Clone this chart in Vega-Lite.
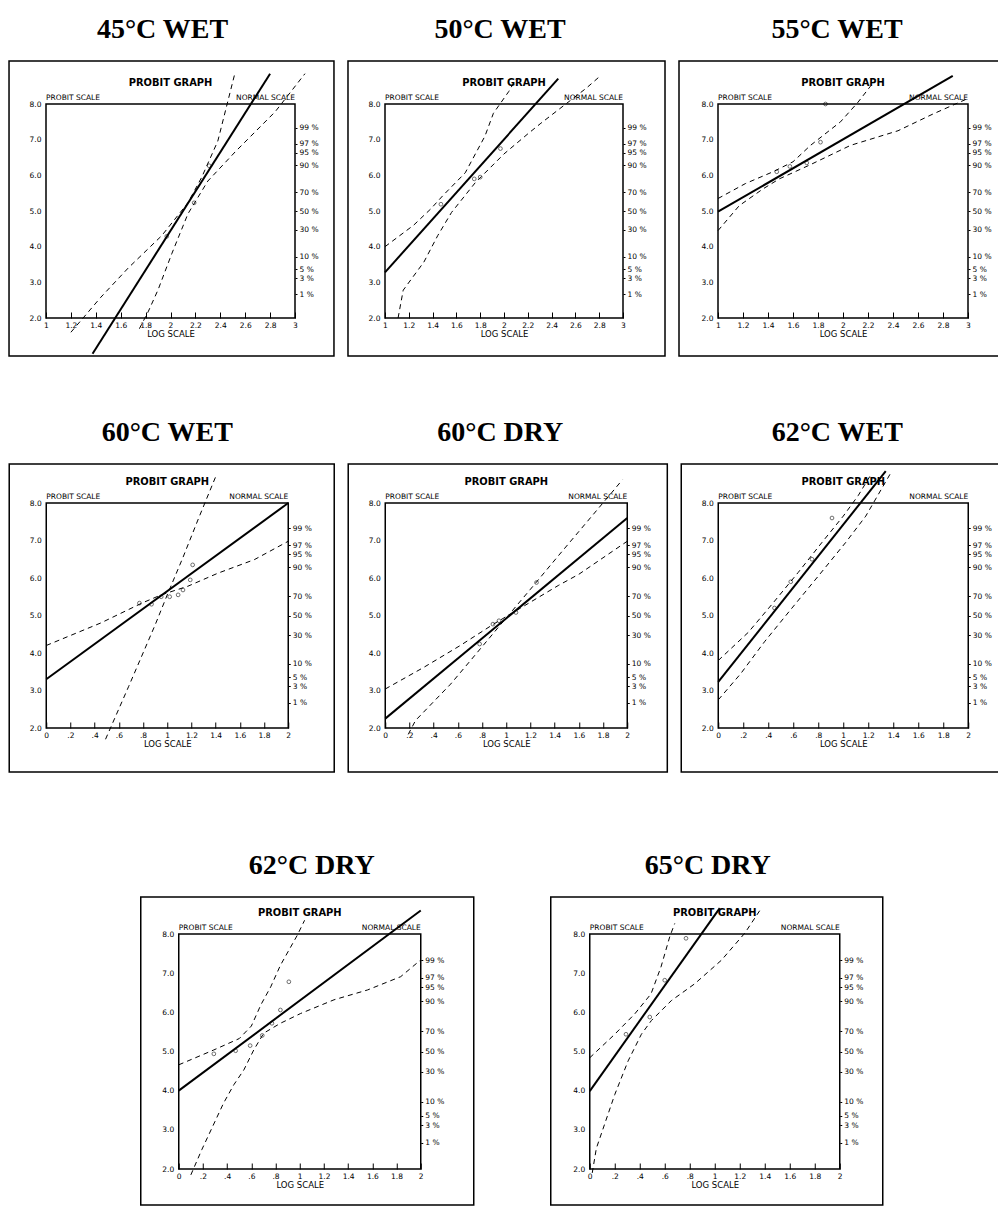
{
  "$schema": "https://vega.github.io/schema/vega-lite/v6.json",
  "background": "white",
  "padding": {"left": 7, "top": 15, "right": 0, "bottom": 0},
  "datasets": {
    "p1": [
      {"s": "fit", "x": 1.374, "y": 1.0}, {"s": "fit", "x": 2.80, "y": 8.85},
      {"s": "band1", "x": 1.2, "y": 1.6}, {"s": "band1", "x": 1.44, "y": 2.58}, {"s": "band1", "x": 1.66, "y": 3.40}, {"s": "band1", "x": 1.93, "y": 4.31}, {"s": "band1", "x": 2.14, "y": 5.23}, {"s": "band1", "x": 2.25, "y": 5.94}, {"s": "band1", "x": 2.38, "y": 6.96}, {"s": "band1", "x": 2.52, "y": 8.9},
      {"s": "band2", "x": 1.75, "y": 1.7}, {"s": "band2", "x": 1.82, "y": 2.17}, {"s": "band2", "x": 1.90, "y": 2.79}, {"s": "band2", "x": 2.01, "y": 3.80}, {"s": "band2", "x": 2.14, "y": 4.92}, {"s": "band2", "x": 2.30, "y": 5.84}, {"s": "band2", "x": 2.52, "y": 6.66}, {"s": "band2", "x": 2.84, "y": 7.78}, {"s": "band2", "x": 3.08, "y": 8.85},
      {"s": "obs", "x": 1.97, "y": 4.29}, {"s": "obs", "x": 2.19, "y": 5.23}, {"s": "obs", "x": 2.31, "y": 6.27}
    ],
    "p2": [
      {"s": "fit", "x": 1.0, "y": 3.28}, {"s": "fit", "x": 2.456, "y": 8.71},
      {"s": "band1", "x": 1.0, "y": 4.0}, {"s": "band1", "x": 1.24, "y": 4.6}, {"s": "band1", "x": 1.385, "y": 5.06}, {"s": "band1", "x": 1.486, "y": 5.43}, {"s": "band1", "x": 1.674, "y": 6.07}, {"s": "band1", "x": 1.84, "y": 7.1}, {"s": "band1", "x": 1.911, "y": 7.74}, {"s": "band1", "x": 2.04, "y": 8.35}, {"s": "band1", "x": 2.1, "y": 8.7},
      {"s": "band2", "x": 1.11, "y": 2.0}, {"s": "band2", "x": 1.153, "y": 2.78}, {"s": "band2", "x": 1.327, "y": 3.57}, {"s": "band2", "x": 1.443, "y": 4.31}, {"s": "band2", "x": 1.559, "y": 4.96}, {"s": "band2", "x": 1.76, "y": 5.8}, {"s": "band2", "x": 2.0, "y": 6.6}, {"s": "band2", "x": 2.21, "y": 7.19}, {"s": "band2", "x": 2.31, "y": 7.46}, {"s": "band2", "x": 2.69, "y": 8.44}, {"s": "band2", "x": 2.8, "y": 8.76},
      {"s": "obs", "x": 1.47, "y": 5.19}, {"s": "obs", "x": 1.75, "y": 5.9}, {"s": "obs", "x": 1.8, "y": 5.95}, {"s": "obs", "x": 1.97, "y": 6.75}
    ],
    "p3": [
      {"s": "fit", "x": 1.0, "y": 4.98}, {"s": "fit", "x": 2.878, "y": 8.79},
      {"s": "band1", "x": 1.0, "y": 5.35}, {"s": "band1", "x": 1.22, "y": 5.77}, {"s": "band1", "x": 1.44, "y": 6.1}, {"s": "band1", "x": 1.6, "y": 6.38}, {"s": "band1", "x": 1.74, "y": 6.84}, {"s": "band1", "x": 1.98, "y": 7.5}, {"s": "band1", "x": 2.12, "y": 8.05}, {"s": "band1", "x": 2.22, "y": 8.5},
      {"s": "band2", "x": 1.0, "y": 4.45}, {"s": "band2", "x": 1.17, "y": 5.15}, {"s": "band2", "x": 1.36, "y": 5.62}, {"s": "band2", "x": 1.49, "y": 5.9}, {"s": "band2", "x": 1.74, "y": 6.3}, {"s": "band2", "x": 2.06, "y": 6.84}, {"s": "band2", "x": 2.44, "y": 7.25}, {"s": "band2", "x": 2.72, "y": 7.72}, {"s": "band2", "x": 2.99, "y": 8.14},
      {"s": "obs", "x": 1.47, "y": 6.1}, {"s": "obs", "x": 1.575, "y": 6.25}, {"s": "obs", "x": 1.71, "y": 6.35}, {"s": "obs", "x": 1.82, "y": 6.93}, {"s": "obs", "x": 1.86, "y": 8.0}
    ],
    "p4": [
      {"s": "fit", "x": 0, "y": 3.3}, {"s": "fit", "x": 2, "y": 8.0},
      {"s": "band1", "x": 0, "y": 4.2}, {"s": "band1", "x": 0.45, "y": 4.8}, {"s": "band1", "x": 0.79, "y": 5.33}, {"s": "band1", "x": 0.95, "y": 5.55}, {"s": "band1", "x": 1.17, "y": 5.78}, {"s": "band1", "x": 1.42, "y": 6.13}, {"s": "band1", "x": 1.72, "y": 6.49}, {"s": "band1", "x": 2.0, "y": 6.98},
      {"s": "band2", "x": 0.49, "y": 1.7}, {"s": "band2", "x": 0.68, "y": 3.1}, {"s": "band2", "x": 0.9, "y": 4.75}, {"s": "band2", "x": 1.0, "y": 5.55}, {"s": "band2", "x": 1.13, "y": 6.55}, {"s": "band2", "x": 1.26, "y": 7.6}, {"s": "band2", "x": 1.4, "y": 8.7},
      {"s": "obs", "x": 0.77, "y": 5.33}, {"s": "obs", "x": 0.87, "y": 5.3}, {"s": "obs", "x": 0.95, "y": 5.5}, {"s": "obs", "x": 1.02, "y": 5.5}, {"s": "obs", "x": 1.09, "y": 5.55}, {"s": "obs", "x": 1.13, "y": 5.68}, {"s": "obs", "x": 1.19, "y": 5.95}, {"s": "obs", "x": 1.21, "y": 6.35}
    ],
    "p5": [
      {"s": "fit", "x": 0, "y": 2.25}, {"s": "fit", "x": 2, "y": 7.6},
      {"s": "band1", "x": 0, "y": 3.04}, {"s": "band1", "x": 0.32, "y": 3.62}, {"s": "band1", "x": 0.62, "y": 4.2}, {"s": "band1", "x": 0.9, "y": 4.78}, {"s": "band1", "x": 1.15, "y": 5.26}, {"s": "band1", "x": 1.43, "y": 5.8}, {"s": "band1", "x": 1.6, "y": 6.1}, {"s": "band1", "x": 2.0, "y": 6.98},
      {"s": "band2", "x": 0.19, "y": 1.83}, {"s": "band2", "x": 0.25, "y": 2.2}, {"s": "band2", "x": 0.54, "y": 3.17}, {"s": "band2", "x": 0.71, "y": 3.82}, {"s": "band2", "x": 0.98, "y": 4.86}, {"s": "band2", "x": 1.2, "y": 5.7}, {"s": "band2", "x": 1.43, "y": 6.59}, {"s": "band2", "x": 1.6, "y": 7.24}, {"s": "band2", "x": 1.71, "y": 7.66}, {"s": "band2", "x": 1.875, "y": 8.29}, {"s": "band2", "x": 1.96, "y": 8.62},
      {"s": "obs", "x": 0.78, "y": 4.24}, {"s": "obs", "x": 0.89, "y": 4.77}, {"s": "obs", "x": 0.94, "y": 4.86}, {"s": "obs", "x": 1.08, "y": 5.08}, {"s": "obs", "x": 1.25, "y": 5.88}
    ],
    "p6": [
      {"s": "fit", "x": 0, "y": 3.23}, {"s": "fit", "x": 1.34, "y": 8.85},
      {"s": "band1", "x": 0, "y": 3.8}, {"s": "band1", "x": 0.24, "y": 4.55}, {"s": "band1", "x": 0.43, "y": 5.3}, {"s": "band1", "x": 0.64, "y": 6.15}, {"s": "band1", "x": 0.83, "y": 6.95}, {"s": "band1", "x": 1.0, "y": 7.65}, {"s": "band1", "x": 1.12, "y": 8.2}, {"s": "band1", "x": 1.22, "y": 8.75},
      {"s": "band2", "x": 0, "y": 2.75}, {"s": "band2", "x": 0.18, "y": 3.45}, {"s": "band2", "x": 0.37, "y": 4.3}, {"s": "band2", "x": 0.59, "y": 5.2}, {"s": "band2", "x": 0.8, "y": 6.05}, {"s": "band2", "x": 1.02, "y": 6.95}, {"s": "band2", "x": 1.18, "y": 7.65}, {"s": "band2", "x": 1.38, "y": 8.8},
      {"s": "obs", "x": 0.45, "y": 5.2}, {"s": "obs", "x": 0.58, "y": 5.9}, {"s": "obs", "x": 0.75, "y": 6.5}, {"s": "obs", "x": 0.91, "y": 7.6}
    ],
    "p7": [
      {"s": "fit", "x": 0, "y": 4.0}, {"s": "fit", "x": 2, "y": 8.6},
      {"s": "band1", "x": 0, "y": 4.66}, {"s": "band1", "x": 0.29, "y": 5.04}, {"s": "band1", "x": 0.5, "y": 5.33}, {"s": "band1", "x": 0.6, "y": 5.65}, {"s": "band1", "x": 0.68, "y": 6.2}, {"s": "band1", "x": 0.76, "y": 6.65}, {"s": "band1", "x": 0.84, "y": 7.2}, {"s": "band1", "x": 0.98, "y": 7.97}, {"s": "band1", "x": 1.04, "y": 8.35},
      {"s": "band2", "x": 0.1, "y": 1.85}, {"s": "band2", "x": 0.19, "y": 2.49}, {"s": "band2", "x": 0.37, "y": 3.68}, {"s": "band2", "x": 0.455, "y": 4.15}, {"s": "band2", "x": 0.538, "y": 4.53}, {"s": "band2", "x": 0.62, "y": 5.04}, {"s": "band2", "x": 0.703, "y": 5.47}, {"s": "band2", "x": 0.84, "y": 5.72}, {"s": "band2", "x": 1.007, "y": 5.97}, {"s": "band2", "x": 1.283, "y": 6.32}, {"s": "band2", "x": 1.559, "y": 6.57}, {"s": "band2", "x": 1.834, "y": 6.91}, {"s": "band2", "x": 2.0, "y": 7.34},
      {"s": "obs", "x": 0.29, "y": 4.94}, {"s": "obs", "x": 0.47, "y": 5.02}, {"s": "obs", "x": 0.59, "y": 5.15}, {"s": "obs", "x": 0.69, "y": 5.41}, {"s": "obs", "x": 0.77, "y": 5.72}, {"s": "obs", "x": 0.84, "y": 6.06}, {"s": "obs", "x": 0.91, "y": 6.78}
    ],
    "p8": [
      {"s": "fit", "x": 0, "y": 3.99}, {"s": "fit", "x": 1.04, "y": 8.66},
      {"s": "band1", "x": 0, "y": 4.84}, {"s": "band1", "x": 0.2, "y": 5.44}, {"s": "band1", "x": 0.36, "y": 5.96}, {"s": "band1", "x": 0.49, "y": 6.47}, {"s": "band1", "x": 0.57, "y": 7.16}, {"s": "band1", "x": 0.64, "y": 7.93}, {"s": "band1", "x": 0.68, "y": 8.27},
      {"s": "band2", "x": 0.02, "y": 1.9}, {"s": "band2", "x": 0.053, "y": 2.53}, {"s": "band2", "x": 0.2, "y": 3.9}, {"s": "band2", "x": 0.307, "y": 4.76}, {"s": "band2", "x": 0.413, "y": 5.44}, {"s": "band2", "x": 0.493, "y": 5.79}, {"s": "band2", "x": 0.653, "y": 6.3}, {"s": "band2", "x": 0.84, "y": 6.73}, {"s": "band2", "x": 1.053, "y": 7.33}, {"s": "band2", "x": 1.24, "y": 8.02}, {"s": "band2", "x": 1.373, "y": 8.66},
      {"s": "obs", "x": 0.29, "y": 5.44}, {"s": "obs", "x": 0.48, "y": 5.88}, {"s": "obs", "x": 0.6, "y": 6.82}, {"s": "obs", "x": 0.77, "y": 7.89}
    ]
  },
  "spacing": 59,
  "vconcat": [
    {
      "spacing": 10,
      "hconcat": [
        {
          "title": {"text": "45°C WET", "dx": -8}, "width": 249, "height": 214,
          "resolve": {"axis": {"x": "independent", "y": "independent"}},
          "layer": [
            {"data": {"values": [{}]}, "mark": {"type": "rect", "fill": "white", "fillOpacity": 0, "stroke": "black", "strokeWidth": 1.5},
             "encoding": {"x": {"datum": 0.703, "type": "quantitative", "scale": {"domain": [1, 3]}, "axis": null},
                          "x2": {"datum": 3.313},
                          "y": {"datum": 9.206, "type": "quantitative", "scale": {"domain": [2, 8]}, "axis": {"orient": "left", "values": [2, 3, 4, 5, 6, 7, 8], "format": ".1f", "title": null}},
                          "y2": {"datum": 0.935}}},
            {"data": {"name": "p1"}, "transform": [{"filter": "datum.s == 'fit'"}], "mark": {"type": "line", "color": "black", "strokeWidth": 2},
             "encoding": {"x": {"field": "x", "type": "quantitative", "scale": {"domain": [1, 3]}, "axis": {"orient": "bottom", "values": [1, 1.2, 1.4, 1.6, 1.8, 2, 2.2, 2.4, 2.6, 2.8, 3], "format": ".1~f", "title": "LOG SCALE", "offset": -6, "tickSize": 6, "labelPadding": 3, "domain": false, "titlePadding": 1}},
                          "y": {"field": "y", "type": "quantitative", "scale": {"domain": [2, 8]}, "axis": {"orient": "right", "title": null, "values": [2.67, 3.12, 3.36, 3.72, 4.48, 5, 5.52, 6.28, 6.64, 6.88, 7.33], "labelExpr": "datum.value > 7.3 ? '99 %' : datum.value > 6.8 ? '97 %' : datum.value > 6.6 ? '95 %' : datum.value > 6.2 ? '90 %' : datum.value > 5.5 ? '70 %' : datum.value > 4.9 ? '50 %' : datum.value > 4.4 ? '30 %' : datum.value > 3.7 ? '10 %' : datum.value > 3.3 ? '5 %' : datum.value > 3.1 ? '3 %' : '1 %'"}}}},
            {"data": {"name": "p1"}, "transform": [{"filter": "datum.s != 'fit' && datum.s != 'obs'"}], "mark": {"type": "line", "color": "black", "strokeWidth": 1, "strokeDash": [5, 4]},
             "encoding": {"x": {"field": "x", "type": "quantitative", "scale": {"domain": [1, 3]}, "axis": null},
                          "y": {"field": "y", "type": "quantitative", "scale": {"domain": [2, 8]}, "axis": null},
                          "detail": {"field": "s"}}},
            {"data": {"name": "p1"}, "transform": [{"filter": "datum.s == 'obs'"}], "mark": {"type": "point", "shape": "circle", "filled": false, "size": 14, "strokeWidth": 0.8, "color": "black"},
             "encoding": {"x": {"field": "x", "type": "quantitative", "scale": {"domain": [1, 3]}, "axis": null},
                          "y": {"field": "y", "type": "quantitative", "scale": {"domain": [2, 8]}, "axis": null}}},
            {"data": {"values": [{}]}, "mark": {"type": "text", "text": "PROBIT GRAPH", "font": "DejaVu Sans Condensed, DejaVu Sans", "fontWeight": "bold", "fontSize": 11, "baseline": "middle", "dy": -21},
             "encoding": {"x": {"datum": 2, "type": "quantitative", "scale": {"domain": [1, 3]}, "axis": null}, "y": {"datum": 8, "type": "quantitative", "scale": {"domain": [2, 8]}, "axis": null}}},
            {"data": {"values": [{}]}, "mark": {"type": "text", "text": "PROBIT SCALE", "fontSize": 7.5, "align": "left", "baseline": "bottom", "dy": -2},
             "encoding": {"x": {"datum": 1, "type": "quantitative", "scale": {"domain": [1, 3]}, "axis": null}, "y": {"datum": 8, "type": "quantitative", "scale": {"domain": [2, 8]}, "axis": null}}},
            {"data": {"values": [{}]}, "mark": {"type": "text", "text": "NORMAL SCALE", "fontSize": 7.5, "align": "right", "baseline": "bottom", "dy": -2},
             "encoding": {"x": {"datum": 3, "type": "quantitative", "scale": {"domain": [1, 3]}, "axis": null}, "y": {"datum": 8, "type": "quantitative", "scale": {"domain": [2, 8]}, "axis": null}}}
          ]
        },
        {
          "title": {"text": "50°C WET", "dx": -4}, "width": 238, "height": 214,
          "resolve": {"axis": {"x": "independent", "y": "independent"}},
          "layer": [
            {"data": {"values": [{}]}, "mark": {"type": "rect", "fill": "white", "fillOpacity": 0, "stroke": "black", "strokeWidth": 1.5},
             "encoding": {"x": {"datum": 0.689, "type": "quantitative", "scale": {"domain": [1, 3]}, "axis": null},
                          "x2": {"datum": 3.353},
                          "y": {"datum": 9.206, "type": "quantitative", "scale": {"domain": [2, 8]}, "axis": {"orient": "left", "values": [2, 3, 4, 5, 6, 7, 8], "format": ".1f", "title": null}},
                          "y2": {"datum": 0.935}}},
            {"data": {"name": "p2"}, "transform": [{"filter": "datum.s == 'fit'"}], "mark": {"type": "line", "color": "black", "strokeWidth": 2},
             "encoding": {"x": {"field": "x", "type": "quantitative", "scale": {"domain": [1, 3]}, "axis": {"orient": "bottom", "values": [1, 1.2, 1.4, 1.6, 1.8, 2, 2.2, 2.4, 2.6, 2.8, 3], "format": ".1~f", "title": "LOG SCALE", "offset": -6, "tickSize": 6, "labelPadding": 3, "domain": false, "titlePadding": 1}},
                          "y": {"field": "y", "type": "quantitative", "scale": {"domain": [2, 8]}, "axis": {"orient": "right", "title": null, "values": [2.67, 3.12, 3.36, 3.72, 4.48, 5, 5.52, 6.28, 6.64, 6.88, 7.33], "labelExpr": "datum.value > 7.3 ? '99 %' : datum.value > 6.8 ? '97 %' : datum.value > 6.6 ? '95 %' : datum.value > 6.2 ? '90 %' : datum.value > 5.5 ? '70 %' : datum.value > 4.9 ? '50 %' : datum.value > 4.4 ? '30 %' : datum.value > 3.7 ? '10 %' : datum.value > 3.3 ? '5 %' : datum.value > 3.1 ? '3 %' : '1 %'"}}}},
            {"data": {"name": "p2"}, "transform": [{"filter": "datum.s != 'fit' && datum.s != 'obs'"}], "mark": {"type": "line", "color": "black", "strokeWidth": 1, "strokeDash": [5, 4]},
             "encoding": {"x": {"field": "x", "type": "quantitative", "scale": {"domain": [1, 3]}, "axis": null},
                          "y": {"field": "y", "type": "quantitative", "scale": {"domain": [2, 8]}, "axis": null},
                          "detail": {"field": "s"}}},
            {"data": {"name": "p2"}, "transform": [{"filter": "datum.s == 'obs'"}], "mark": {"type": "point", "shape": "circle", "filled": false, "size": 14, "strokeWidth": 0.8, "color": "black"},
             "encoding": {"x": {"field": "x", "type": "quantitative", "scale": {"domain": [1, 3]}, "axis": null},
                          "y": {"field": "y", "type": "quantitative", "scale": {"domain": [2, 8]}, "axis": null}}},
            {"data": {"values": [{}]}, "mark": {"type": "text", "text": "PROBIT GRAPH", "font": "DejaVu Sans Condensed, DejaVu Sans", "fontWeight": "bold", "fontSize": 11, "baseline": "middle", "dy": -21},
             "encoding": {"x": {"datum": 2, "type": "quantitative", "scale": {"domain": [1, 3]}, "axis": null}, "y": {"datum": 8, "type": "quantitative", "scale": {"domain": [2, 8]}, "axis": null}}},
            {"data": {"values": [{}]}, "mark": {"type": "text", "text": "PROBIT SCALE", "fontSize": 7.5, "align": "left", "baseline": "bottom", "dy": -2},
             "encoding": {"x": {"datum": 1, "type": "quantitative", "scale": {"domain": [1, 3]}, "axis": null}, "y": {"datum": 8, "type": "quantitative", "scale": {"domain": [2, 8]}, "axis": null}}},
            {"data": {"values": [{}]}, "mark": {"type": "text", "text": "NORMAL SCALE", "fontSize": 7.5, "align": "right", "baseline": "bottom", "dy": -2},
             "encoding": {"x": {"datum": 3, "type": "quantitative", "scale": {"domain": [1, 3]}, "axis": null}, "y": {"datum": 8, "type": "quantitative", "scale": {"domain": [2, 8]}, "axis": null}}}
          ]
        },
        {
          "title": {"text": "55°C WET", "dx": -6}, "width": 250, "height": 214,
          "resolve": {"axis": {"x": "independent", "y": "independent"}},
          "layer": [
            {"data": {"values": [{}]}, "mark": {"type": "rect", "fill": "white", "fillOpacity": 0, "stroke": "black", "strokeWidth": 1.5},
             "encoding": {"x": {"datum": 0.688, "type": "quantitative", "scale": {"domain": [1, 3]}, "axis": null},
                          "x2": {"datum": 3.344},
                          "y": {"datum": 9.206, "type": "quantitative", "scale": {"domain": [2, 8]}, "axis": {"orient": "left", "values": [2, 3, 4, 5, 6, 7, 8], "format": ".1f", "title": null}},
                          "y2": {"datum": 0.935}}},
            {"data": {"name": "p3"}, "transform": [{"filter": "datum.s == 'fit'"}], "mark": {"type": "line", "color": "black", "strokeWidth": 2},
             "encoding": {"x": {"field": "x", "type": "quantitative", "scale": {"domain": [1, 3]}, "axis": {"orient": "bottom", "values": [1, 1.2, 1.4, 1.6, 1.8, 2, 2.2, 2.4, 2.6, 2.8, 3], "format": ".1~f", "title": "LOG SCALE", "offset": -6, "tickSize": 6, "labelPadding": 3, "domain": false, "titlePadding": 1}},
                          "y": {"field": "y", "type": "quantitative", "scale": {"domain": [2, 8]}, "axis": {"orient": "right", "title": null, "values": [2.67, 3.12, 3.36, 3.72, 4.48, 5, 5.52, 6.28, 6.64, 6.88, 7.33], "labelExpr": "datum.value > 7.3 ? '99 %' : datum.value > 6.8 ? '97 %' : datum.value > 6.6 ? '95 %' : datum.value > 6.2 ? '90 %' : datum.value > 5.5 ? '70 %' : datum.value > 4.9 ? '50 %' : datum.value > 4.4 ? '30 %' : datum.value > 3.7 ? '10 %' : datum.value > 3.3 ? '5 %' : datum.value > 3.1 ? '3 %' : '1 %'"}}}},
            {"data": {"name": "p3"}, "transform": [{"filter": "datum.s != 'fit' && datum.s != 'obs'"}], "mark": {"type": "line", "color": "black", "strokeWidth": 1, "strokeDash": [5, 4]},
             "encoding": {"x": {"field": "x", "type": "quantitative", "scale": {"domain": [1, 3]}, "axis": null},
                          "y": {"field": "y", "type": "quantitative", "scale": {"domain": [2, 8]}, "axis": null},
                          "detail": {"field": "s"}}},
            {"data": {"name": "p3"}, "transform": [{"filter": "datum.s == 'obs'"}], "mark": {"type": "point", "shape": "circle", "filled": false, "size": 14, "strokeWidth": 0.8, "color": "black"},
             "encoding": {"x": {"field": "x", "type": "quantitative", "scale": {"domain": [1, 3]}, "axis": null},
                          "y": {"field": "y", "type": "quantitative", "scale": {"domain": [2, 8]}, "axis": null}}},
            {"data": {"values": [{}]}, "mark": {"type": "text", "text": "PROBIT GRAPH", "font": "DejaVu Sans Condensed, DejaVu Sans", "fontWeight": "bold", "fontSize": 11, "baseline": "middle", "dy": -21},
             "encoding": {"x": {"datum": 2, "type": "quantitative", "scale": {"domain": [1, 3]}, "axis": null}, "y": {"datum": 8, "type": "quantitative", "scale": {"domain": [2, 8]}, "axis": null}}},
            {"data": {"values": [{}]}, "mark": {"type": "text", "text": "PROBIT SCALE", "fontSize": 7.5, "align": "left", "baseline": "bottom", "dy": -2},
             "encoding": {"x": {"datum": 1, "type": "quantitative", "scale": {"domain": [1, 3]}, "axis": null}, "y": {"datum": 8, "type": "quantitative", "scale": {"domain": [2, 8]}, "axis": null}}},
            {"data": {"values": [{}]}, "mark": {"type": "text", "text": "NORMAL SCALE", "fontSize": 7.5, "align": "right", "baseline": "bottom", "dy": -2},
             "encoding": {"x": {"datum": 3, "type": "quantitative", "scale": {"domain": [1, 3]}, "axis": null}, "y": {"datum": 8, "type": "quantitative", "scale": {"domain": [2, 8]}, "axis": null}}}
          ]
        }
      ]
    },
    {
      "spacing": 77,
      "center": true,
      "vconcat": [
        {
          "spacing": 10,
          "hconcat": [
            {
              "title": {"text": "60°C WET"}, "width": 242, "height": 225,
              "resolve": {"axis": {"x": "independent", "y": "independent"}},
              "layer": [
                {"data": {"values": [{}]}, "mark": {"type": "rect", "fill": "white", "fillOpacity": 0, "stroke": "black", "strokeWidth": 1.5},
                 "encoding": {"x": {"datum": -0.306, "type": "quantitative", "scale": {"domain": [0, 2]}, "axis": null},
                              "x2": {"datum": 2.38},
                              "y": {"datum": 9.04, "type": "quantitative", "scale": {"domain": [2, 8]}, "axis": {"orient": "left", "values": [2, 3, 4, 5, 6, 7, 8], "format": ".1f", "title": null}},
                              "y2": {"datum": 0.827}}},
                {"data": {"name": "p4"}, "transform": [{"filter": "datum.s == 'fit'"}], "mark": {"type": "line", "color": "black", "strokeWidth": 2},
                 "encoding": {"x": {"field": "x", "type": "quantitative", "scale": {"domain": [0, 2]}, "axis": {"orient": "bottom", "values": [0, 0.2, 0.4, 0.6, 0.8, 1, 1.2, 1.4, 1.6, 1.8, 2], "labelExpr": "datum.value > 0.01 && datum.value < 0.99 ? '.' + format(datum.value * 10, '.0f') : format(datum.value, '.1~f')", "title": "LOG SCALE", "offset": -6, "tickSize": 6, "labelPadding": 3, "domain": false, "titlePadding": 1}},
                              "y": {"field": "y", "type": "quantitative", "scale": {"domain": [2, 8]}, "axis": {"orient": "right", "title": null, "values": [2.67, 3.12, 3.36, 3.72, 4.48, 5, 5.52, 6.28, 6.64, 6.88, 7.33], "labelExpr": "datum.value > 7.3 ? '99 %' : datum.value > 6.8 ? '97 %' : datum.value > 6.6 ? '95 %' : datum.value > 6.2 ? '90 %' : datum.value > 5.5 ? '70 %' : datum.value > 4.9 ? '50 %' : datum.value > 4.4 ? '30 %' : datum.value > 3.7 ? '10 %' : datum.value > 3.3 ? '5 %' : datum.value > 3.1 ? '3 %' : '1 %'"}}}},
                {"data": {"name": "p4"}, "transform": [{"filter": "datum.s != 'fit' && datum.s != 'obs'"}], "mark": {"type": "line", "color": "black", "strokeWidth": 1, "strokeDash": [5, 4]},
                 "encoding": {"x": {"field": "x", "type": "quantitative", "scale": {"domain": [0, 2]}, "axis": null},
                              "y": {"field": "y", "type": "quantitative", "scale": {"domain": [2, 8]}, "axis": null},
                              "detail": {"field": "s"}}},
                {"data": {"name": "p4"}, "transform": [{"filter": "datum.s == 'obs'"}], "mark": {"type": "point", "shape": "circle", "filled": false, "size": 14, "strokeWidth": 0.8, "color": "black"},
                 "encoding": {"x": {"field": "x", "type": "quantitative", "scale": {"domain": [0, 2]}, "axis": null},
                              "y": {"field": "y", "type": "quantitative", "scale": {"domain": [2, 8]}, "axis": null}}},
                {"data": {"values": [{}]}, "mark": {"type": "text", "text": "PROBIT GRAPH", "font": "DejaVu Sans Condensed, DejaVu Sans", "fontWeight": "bold", "fontSize": 11, "baseline": "middle", "dy": -21},
                 "encoding": {"x": {"datum": 1, "type": "quantitative", "scale": {"domain": [0, 2]}, "axis": null}, "y": {"datum": 8, "type": "quantitative", "scale": {"domain": [2, 8]}, "axis": null}}},
                {"data": {"values": [{}]}, "mark": {"type": "text", "text": "PROBIT SCALE", "fontSize": 7.5, "align": "left", "baseline": "bottom", "dy": -2},
                 "encoding": {"x": {"datum": 0, "type": "quantitative", "scale": {"domain": [0, 2]}, "axis": null}, "y": {"datum": 8, "type": "quantitative", "scale": {"domain": [2, 8]}, "axis": null}}},
                {"data": {"values": [{}]}, "mark": {"type": "text", "text": "NORMAL SCALE", "fontSize": 7.5, "align": "right", "baseline": "bottom", "dy": -2},
                 "encoding": {"x": {"datum": 2, "type": "quantitative", "scale": {"domain": [0, 2]}, "axis": null}, "y": {"datum": 8, "type": "quantitative", "scale": {"domain": [2, 8]}, "axis": null}}}
              ]
            },
            {
              "title": {"text": "60°C DRY", "dx": -6}, "width": 242, "height": 225,
              "resolve": {"axis": {"x": "independent", "y": "independent"}},
              "layer": [
                {"data": {"values": [{}]}, "mark": {"type": "rect", "fill": "white", "fillOpacity": 0, "stroke": "black", "strokeWidth": 1.5},
                 "encoding": {"x": {"datum": -0.306, "type": "quantitative", "scale": {"domain": [0, 2]}, "axis": null},
                              "x2": {"datum": 2.331},
                              "y": {"datum": 9.04, "type": "quantitative", "scale": {"domain": [2, 8]}, "axis": {"orient": "left", "values": [2, 3, 4, 5, 6, 7, 8], "format": ".1f", "title": null}},
                              "y2": {"datum": 0.827}}},
                {"data": {"name": "p5"}, "transform": [{"filter": "datum.s == 'fit'"}], "mark": {"type": "line", "color": "black", "strokeWidth": 2},
                 "encoding": {"x": {"field": "x", "type": "quantitative", "scale": {"domain": [0, 2]}, "axis": {"orient": "bottom", "values": [0, 0.2, 0.4, 0.6, 0.8, 1, 1.2, 1.4, 1.6, 1.8, 2], "labelExpr": "datum.value > 0.01 && datum.value < 0.99 ? '.' + format(datum.value * 10, '.0f') : format(datum.value, '.1~f')", "title": "LOG SCALE", "offset": -6, "tickSize": 6, "labelPadding": 3, "domain": false, "titlePadding": 1}},
                              "y": {"field": "y", "type": "quantitative", "scale": {"domain": [2, 8]}, "axis": {"orient": "right", "title": null, "values": [2.67, 3.12, 3.36, 3.72, 4.48, 5, 5.52, 6.28, 6.64, 6.88, 7.33], "labelExpr": "datum.value > 7.3 ? '99 %' : datum.value > 6.8 ? '97 %' : datum.value > 6.6 ? '95 %' : datum.value > 6.2 ? '90 %' : datum.value > 5.5 ? '70 %' : datum.value > 4.9 ? '50 %' : datum.value > 4.4 ? '30 %' : datum.value > 3.7 ? '10 %' : datum.value > 3.3 ? '5 %' : datum.value > 3.1 ? '3 %' : '1 %'"}}}},
                {"data": {"name": "p5"}, "transform": [{"filter": "datum.s != 'fit' && datum.s != 'obs'"}], "mark": {"type": "line", "color": "black", "strokeWidth": 1, "strokeDash": [5, 4]},
                 "encoding": {"x": {"field": "x", "type": "quantitative", "scale": {"domain": [0, 2]}, "axis": null},
                              "y": {"field": "y", "type": "quantitative", "scale": {"domain": [2, 8]}, "axis": null},
                              "detail": {"field": "s"}}},
                {"data": {"name": "p5"}, "transform": [{"filter": "datum.s == 'obs'"}], "mark": {"type": "point", "shape": "circle", "filled": false, "size": 14, "strokeWidth": 0.8, "color": "black"},
                 "encoding": {"x": {"field": "x", "type": "quantitative", "scale": {"domain": [0, 2]}, "axis": null},
                              "y": {"field": "y", "type": "quantitative", "scale": {"domain": [2, 8]}, "axis": null}}},
                {"data": {"values": [{}]}, "mark": {"type": "text", "text": "PROBIT GRAPH", "font": "DejaVu Sans Condensed, DejaVu Sans", "fontWeight": "bold", "fontSize": 11, "baseline": "middle", "dy": -21},
                 "encoding": {"x": {"datum": 1, "type": "quantitative", "scale": {"domain": [0, 2]}, "axis": null}, "y": {"datum": 8, "type": "quantitative", "scale": {"domain": [2, 8]}, "axis": null}}},
                {"data": {"values": [{}]}, "mark": {"type": "text", "text": "PROBIT SCALE", "fontSize": 7.5, "align": "left", "baseline": "bottom", "dy": -2},
                 "encoding": {"x": {"datum": 0, "type": "quantitative", "scale": {"domain": [0, 2]}, "axis": null}, "y": {"datum": 8, "type": "quantitative", "scale": {"domain": [2, 8]}, "axis": null}}},
                {"data": {"values": [{}]}, "mark": {"type": "text", "text": "NORMAL SCALE", "fontSize": 7.5, "align": "right", "baseline": "bottom", "dy": -2},
                 "encoding": {"x": {"datum": 2, "type": "quantitative", "scale": {"domain": [0, 2]}, "axis": null}, "y": {"datum": 8, "type": "quantitative", "scale": {"domain": [2, 8]}, "axis": null}}}
              ]
            },
            {
              "title": {"text": "62°C WET", "dx": -6}, "width": 250, "height": 225,
              "resolve": {"axis": {"x": "independent", "y": "independent"}},
              "layer": [
                {"data": {"values": [{}]}, "mark": {"type": "rect", "fill": "white", "fillOpacity": 0, "stroke": "black", "strokeWidth": 1.5},
                 "encoding": {"x": {"datum": -0.296, "type": "quantitative", "scale": {"domain": [0, 2]}, "axis": null},
                              "x2": {"datum": 2.376},
                              "y": {"datum": 9.04, "type": "quantitative", "scale": {"domain": [2, 8]}, "axis": {"orient": "left", "values": [2, 3, 4, 5, 6, 7, 8], "format": ".1f", "title": null}},
                              "y2": {"datum": 0.827}}},
                {"data": {"name": "p6"}, "transform": [{"filter": "datum.s == 'fit'"}], "mark": {"type": "line", "color": "black", "strokeWidth": 2},
                 "encoding": {"x": {"field": "x", "type": "quantitative", "scale": {"domain": [0, 2]}, "axis": {"orient": "bottom", "values": [0, 0.2, 0.4, 0.6, 0.8, 1, 1.2, 1.4, 1.6, 1.8, 2], "labelExpr": "datum.value > 0.01 && datum.value < 0.99 ? '.' + format(datum.value * 10, '.0f') : format(datum.value, '.1~f')", "title": "LOG SCALE", "offset": -6, "tickSize": 6, "labelPadding": 3, "domain": false, "titlePadding": 1}},
                              "y": {"field": "y", "type": "quantitative", "scale": {"domain": [2, 8]}, "axis": {"orient": "right", "title": null, "values": [2.67, 3.12, 3.36, 3.72, 4.48, 5, 5.52, 6.28, 6.64, 6.88, 7.33], "labelExpr": "datum.value > 7.3 ? '99 %' : datum.value > 6.8 ? '97 %' : datum.value > 6.6 ? '95 %' : datum.value > 6.2 ? '90 %' : datum.value > 5.5 ? '70 %' : datum.value > 4.9 ? '50 %' : datum.value > 4.4 ? '30 %' : datum.value > 3.7 ? '10 %' : datum.value > 3.3 ? '5 %' : datum.value > 3.1 ? '3 %' : '1 %'"}}}},
                {"data": {"name": "p6"}, "transform": [{"filter": "datum.s != 'fit' && datum.s != 'obs'"}], "mark": {"type": "line", "color": "black", "strokeWidth": 1, "strokeDash": [5, 4]},
                 "encoding": {"x": {"field": "x", "type": "quantitative", "scale": {"domain": [0, 2]}, "axis": null},
                              "y": {"field": "y", "type": "quantitative", "scale": {"domain": [2, 8]}, "axis": null},
                              "detail": {"field": "s"}}},
                {"data": {"name": "p6"}, "transform": [{"filter": "datum.s == 'obs'"}], "mark": {"type": "point", "shape": "circle", "filled": false, "size": 14, "strokeWidth": 0.8, "color": "black"},
                 "encoding": {"x": {"field": "x", "type": "quantitative", "scale": {"domain": [0, 2]}, "axis": null},
                              "y": {"field": "y", "type": "quantitative", "scale": {"domain": [2, 8]}, "axis": null}}},
                {"data": {"values": [{}]}, "mark": {"type": "text", "text": "PROBIT GRAPH", "font": "DejaVu Sans Condensed, DejaVu Sans", "fontWeight": "bold", "fontSize": 11, "baseline": "middle", "dy": -21},
                 "encoding": {"x": {"datum": 1, "type": "quantitative", "scale": {"domain": [0, 2]}, "axis": null}, "y": {"datum": 8, "type": "quantitative", "scale": {"domain": [2, 8]}, "axis": null}}},
                {"data": {"values": [{}]}, "mark": {"type": "text", "text": "PROBIT SCALE", "fontSize": 7.5, "align": "left", "baseline": "bottom", "dy": -2},
                 "encoding": {"x": {"datum": 0, "type": "quantitative", "scale": {"domain": [0, 2]}, "axis": null}, "y": {"datum": 8, "type": "quantitative", "scale": {"domain": [2, 8]}, "axis": null}}},
                {"data": {"values": [{}]}, "mark": {"type": "text", "text": "NORMAL SCALE", "fontSize": 7.5, "align": "right", "baseline": "bottom", "dy": -2},
                 "encoding": {"x": {"datum": 2, "type": "quantitative", "scale": {"domain": [0, 2]}, "axis": null}, "y": {"datum": 8, "type": "quantitative", "scale": {"domain": [2, 8]}, "axis": null}}}
              ]
            }
          ]
        },
        {
          "spacing": 73,
          "hconcat": [
            {
              "title": {"text": "62°C DRY", "dx": 12}, "width": 242, "height": 235,
              "resolve": {"axis": {"x": "independent", "y": "independent"}},
              "layer": [
                {"data": {"values": [{}]}, "mark": {"type": "rect", "fill": "white", "fillOpacity": 0, "stroke": "black", "strokeWidth": 1.5},
                 "encoding": {"x": {"datum": -0.314, "type": "quantitative", "scale": {"domain": [0, 2]}, "axis": null},
                              "x2": {"datum": 2.438},
                              "y": {"datum": 8.945, "type": "quantitative", "scale": {"domain": [2, 8]}, "axis": {"orient": "left", "values": [2, 3, 4, 5, 6, 7, 8], "format": ".1f", "title": null}},
                              "y2": {"datum": 1.081}}},
                {"data": {"name": "p7"}, "transform": [{"filter": "datum.s == 'fit'"}], "mark": {"type": "line", "color": "black", "strokeWidth": 2},
                 "encoding": {"x": {"field": "x", "type": "quantitative", "scale": {"domain": [0, 2]}, "axis": {"orient": "bottom", "values": [0, 0.2, 0.4, 0.6, 0.8, 1, 1.2, 1.4, 1.6, 1.8, 2], "labelExpr": "datum.value > 0.01 && datum.value < 0.99 ? '.' + format(datum.value * 10, '.0f') : format(datum.value, '.1~f')", "title": "LOG SCALE", "offset": -6, "tickSize": 6, "labelPadding": 3, "domain": false, "titlePadding": 1}},
                              "y": {"field": "y", "type": "quantitative", "scale": {"domain": [2, 8]}, "axis": {"orient": "right", "title": null, "values": [2.67, 3.12, 3.36, 3.72, 4.48, 5, 5.52, 6.28, 6.64, 6.88, 7.33], "labelExpr": "datum.value > 7.3 ? '99 %' : datum.value > 6.8 ? '97 %' : datum.value > 6.6 ? '95 %' : datum.value > 6.2 ? '90 %' : datum.value > 5.5 ? '70 %' : datum.value > 4.9 ? '50 %' : datum.value > 4.4 ? '30 %' : datum.value > 3.7 ? '10 %' : datum.value > 3.3 ? '5 %' : datum.value > 3.1 ? '3 %' : '1 %'"}}}},
                {"data": {"name": "p7"}, "transform": [{"filter": "datum.s != 'fit' && datum.s != 'obs'"}], "mark": {"type": "line", "color": "black", "strokeWidth": 1, "strokeDash": [5, 4]},
                 "encoding": {"x": {"field": "x", "type": "quantitative", "scale": {"domain": [0, 2]}, "axis": null},
                              "y": {"field": "y", "type": "quantitative", "scale": {"domain": [2, 8]}, "axis": null},
                              "detail": {"field": "s"}}},
                {"data": {"name": "p7"}, "transform": [{"filter": "datum.s == 'obs'"}], "mark": {"type": "point", "shape": "circle", "filled": false, "size": 14, "strokeWidth": 0.8, "color": "black"},
                 "encoding": {"x": {"field": "x", "type": "quantitative", "scale": {"domain": [0, 2]}, "axis": null},
                              "y": {"field": "y", "type": "quantitative", "scale": {"domain": [2, 8]}, "axis": null}}},
                {"data": {"values": [{}]}, "mark": {"type": "text", "text": "PROBIT GRAPH", "font": "DejaVu Sans Condensed, DejaVu Sans", "fontWeight": "bold", "fontSize": 11, "baseline": "middle", "dy": -21},
                 "encoding": {"x": {"datum": 1, "type": "quantitative", "scale": {"domain": [0, 2]}, "axis": null}, "y": {"datum": 8, "type": "quantitative", "scale": {"domain": [2, 8]}, "axis": null}}},
                {"data": {"values": [{}]}, "mark": {"type": "text", "text": "PROBIT SCALE", "fontSize": 7.5, "align": "left", "baseline": "bottom", "dy": -2},
                 "encoding": {"x": {"datum": 0, "type": "quantitative", "scale": {"domain": [0, 2]}, "axis": null}, "y": {"datum": 8, "type": "quantitative", "scale": {"domain": [2, 8]}, "axis": null}}},
                {"data": {"values": [{}]}, "mark": {"type": "text", "text": "NORMAL SCALE", "fontSize": 7.5, "align": "right", "baseline": "bottom", "dy": -2},
                 "encoding": {"x": {"datum": 2, "type": "quantitative", "scale": {"domain": [0, 2]}, "axis": null}, "y": {"datum": 8, "type": "quantitative", "scale": {"domain": [2, 8]}, "axis": null}}}
              ]
            },
            {
              "title": {"text": "65°C DRY", "dx": -7}, "width": 250, "height": 235,
              "resolve": {"axis": {"x": "independent", "y": "independent"}},
              "layer": [
                {"data": {"values": [{}]}, "mark": {"type": "rect", "fill": "white", "fillOpacity": 0, "stroke": "black", "strokeWidth": 1.5},
                 "encoding": {"x": {"datum": -0.312, "type": "quantitative", "scale": {"domain": [0, 2]}, "axis": null},
                              "x2": {"datum": 2.344},
                              "y": {"datum": 8.945, "type": "quantitative", "scale": {"domain": [2, 8]}, "axis": {"orient": "left", "values": [2, 3, 4, 5, 6, 7, 8], "format": ".1f", "title": null}},
                              "y2": {"datum": 1.081}}},
                {"data": {"name": "p8"}, "transform": [{"filter": "datum.s == 'fit'"}], "mark": {"type": "line", "color": "black", "strokeWidth": 2},
                 "encoding": {"x": {"field": "x", "type": "quantitative", "scale": {"domain": [0, 2]}, "axis": {"orient": "bottom", "values": [0, 0.2, 0.4, 0.6, 0.8, 1, 1.2, 1.4, 1.6, 1.8, 2], "labelExpr": "datum.value > 0.01 && datum.value < 0.99 ? '.' + format(datum.value * 10, '.0f') : format(datum.value, '.1~f')", "title": "LOG SCALE", "offset": -6, "tickSize": 6, "labelPadding": 3, "domain": false, "titlePadding": 1}},
                              "y": {"field": "y", "type": "quantitative", "scale": {"domain": [2, 8]}, "axis": {"orient": "right", "title": null, "values": [2.67, 3.12, 3.36, 3.72, 4.48, 5, 5.52, 6.28, 6.64, 6.88, 7.33], "labelExpr": "datum.value > 7.3 ? '99 %' : datum.value > 6.8 ? '97 %' : datum.value > 6.6 ? '95 %' : datum.value > 6.2 ? '90 %' : datum.value > 5.5 ? '70 %' : datum.value > 4.9 ? '50 %' : datum.value > 4.4 ? '30 %' : datum.value > 3.7 ? '10 %' : datum.value > 3.3 ? '5 %' : datum.value > 3.1 ? '3 %' : '1 %'"}}}},
                {"data": {"name": "p8"}, "transform": [{"filter": "datum.s != 'fit' && datum.s != 'obs'"}], "mark": {"type": "line", "color": "black", "strokeWidth": 1, "strokeDash": [5, 4]},
                 "encoding": {"x": {"field": "x", "type": "quantitative", "scale": {"domain": [0, 2]}, "axis": null},
                              "y": {"field": "y", "type": "quantitative", "scale": {"domain": [2, 8]}, "axis": null},
                              "detail": {"field": "s"}}},
                {"data": {"name": "p8"}, "transform": [{"filter": "datum.s == 'obs'"}], "mark": {"type": "point", "shape": "circle", "filled": false, "size": 14, "strokeWidth": 0.8, "color": "black"},
                 "encoding": {"x": {"field": "x", "type": "quantitative", "scale": {"domain": [0, 2]}, "axis": null},
                              "y": {"field": "y", "type": "quantitative", "scale": {"domain": [2, 8]}, "axis": null}}},
                {"data": {"values": [{}]}, "mark": {"type": "text", "text": "PROBIT GRAPH", "font": "DejaVu Sans Condensed, DejaVu Sans", "fontWeight": "bold", "fontSize": 11, "baseline": "middle", "dy": -21},
                 "encoding": {"x": {"datum": 1, "type": "quantitative", "scale": {"domain": [0, 2]}, "axis": null}, "y": {"datum": 8, "type": "quantitative", "scale": {"domain": [2, 8]}, "axis": null}}},
                {"data": {"values": [{}]}, "mark": {"type": "text", "text": "PROBIT SCALE", "fontSize": 7.5, "align": "left", "baseline": "bottom", "dy": -2},
                 "encoding": {"x": {"datum": 0, "type": "quantitative", "scale": {"domain": [0, 2]}, "axis": null}, "y": {"datum": 8, "type": "quantitative", "scale": {"domain": [2, 8]}, "axis": null}}},
                {"data": {"values": [{}]}, "mark": {"type": "text", "text": "NORMAL SCALE", "fontSize": 7.5, "align": "right", "baseline": "bottom", "dy": -2},
                 "encoding": {"x": {"datum": 2, "type": "quantitative", "scale": {"domain": [0, 2]}, "axis": null}, "y": {"datum": 8, "type": "quantitative", "scale": {"domain": [2, 8]}, "axis": null}}}
              ]
            }
          ]
        }
      ]
    }
  ],
  "config": {
    "view": {"stroke": "black", "strokeWidth": 1.5},
    "text": {"color": "black", "font": "DejaVu Sans"},
    "title": {"font": "Liberation Serif", "fontSize": 28, "fontWeight": "bold", "color": "black", "offset": 16, "anchor": "middle", "frame": "group"},
    "axis": {"grid": false, "labelColor": "black", "tickColor": "black", "titleColor": "black", "labelFont": "DejaVu Sans", "titleFont": "DejaVu Sans", "labelFontSize": 7.5, "titleFontSize": 8.5, "titleFontWeight": "normal", "labelFlush": false, "labelOverlap": false, "labelBound": false},
    "axisLeft": {"ticks": false, "domain": false, "labelPadding": 5},
    "axisRight": {"tickSize": 2, "domain": false, "labelPadding": 2}
  }
}
